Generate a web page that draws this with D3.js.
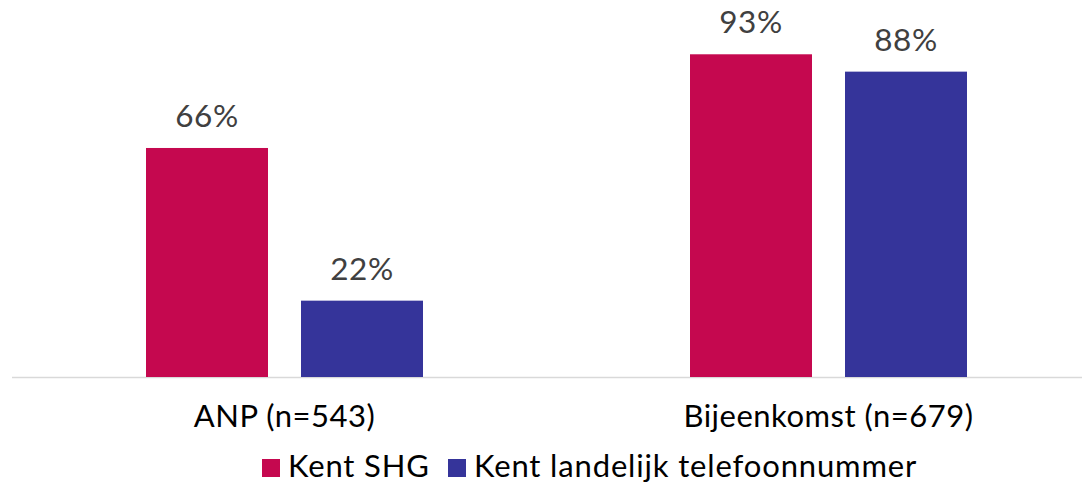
<!DOCTYPE html>
<html>
<head>
<meta charset="utf-8">
<script src="https://cdn.jsdelivr.net/npm/d3@7"></script>
<style>
  body { margin: 0; background: #fff; }
  text { font-family: Lato, "Open Sans", sans-serif; letter-spacing: 0.5px; }
  .leg text { letter-spacing: 0.85px; }
</style>
</head>
<body>
<div id="graf"></div>
<script>
// Data
const categorieen = ["ANP (n=543)", "Bijeenkomst (n=679)"]
const reeksen = ["Kent SHG", "Kent landelijk telefoonnummer"]
const kentSHG = [66, 93]
const kentTelefoon = [22, 88]
const kleuren = ["#C5084F", "#35349A"]

const anchoTotal = 1082
const altoTotal = 483
const baseline = 377

const svg = d3.select("#graf")
  .append("svg")
  .attr("width", anchoTotal)
  .attr("height", altoTotal)

const data = categorieen.map((c, i) => ({ cat: c, waarden: [kentSHG[i], kentTelefoon[i]] }))

// Escaladores
const x = d3.scaleBand()
  .domain(categorieen)
  .range([12.5, 1100.5])

const xSub = d3.scaleBand()
  .domain(reeksen)
  .range([0, 277])
  .paddingInner(0.213)

const y = d3.scaleLinear()
  .domain([0, 100])
  .range([baseline, 30])

// As
svg.append("line")
  .attr("x1", 12).attr("x2", 1082)
  .attr("y1", baseline + 0.5).attr("y2", baseline + 0.5)
  .attr("stroke", "#d9d9d9")
  .attr("stroke-width", 1.5)

const groep = svg.selectAll("g.cat")
  .data(data)
  .join("g")
  .attr("class", "cat")
  .attr("transform", d => `translate(${x(d.cat) + x.bandwidth() / 2 - 138.5}, 0)`)

groep.selectAll("rect")
  .data(d => d.waarden.map((v, i) => ({ reeks: reeksen[i], v, i })))
  .join("rect")
  .attr("x", d => xSub(d.reeks))
  .attr("y", d => y(d.v))
  .attr("width", xSub.bandwidth())
  .attr("height", d => baseline - y(d.v))
  .attr("fill", d => kleuren[d.i])

groep.selectAll("text.val")
  .data(d => d.waarden.map((v, i) => ({ reeks: reeksen[i], v, i })))
  .join("text")
  .attr("class", "val")
  .attr("x", d => xSub(d.reeks) + xSub.bandwidth() / 2)
  .attr("y", d => y(d.v) - 21)
  .attr("text-anchor", "middle")
  .attr("font-size", 31.5)
  .attr("fill", "#404040")
  .text(d => d.v + "%")

svg.selectAll("text.cat")
  .data(categorieen)
  .join("text")
  .attr("class", "cat")
  .attr("x", d => x(d) + x.bandwidth() / 2)
  .attr("y", 427)
  .attr("text-anchor", "middle")
  .attr("font-size", 31)
  .attr("fill", "#000")
  .text(d => d)

// Legenda
const legX = [262, 448]
const leg = svg.selectAll("g.leg")
  .data(reeksen)
  .join("g")
  .attr("class", "leg")
  .attr("transform", (d, i) => `translate(${legX[i]}, 459)`)

leg.append("rect")
  .attr("width", 18).attr("height", 18)
  .attr("fill", (d, i) => kleuren[i])

leg.append("text")
  .attr("x", 26)
  .attr("y", 18)
  .attr("font-size", 31)
  .attr("fill", "#000")
  .text(d => d)
</script>
</body>
</html>
